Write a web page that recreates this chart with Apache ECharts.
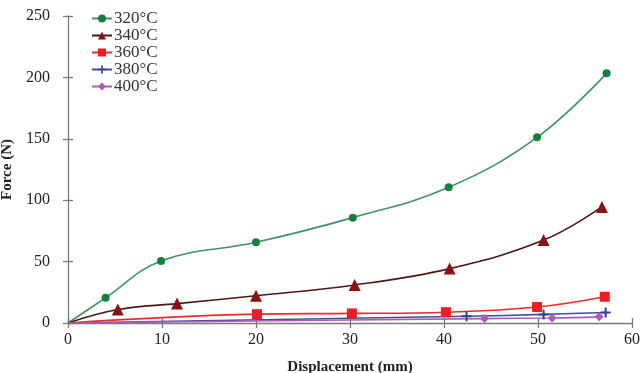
<!DOCTYPE html>
<html>
<head>
<meta charset="utf-8">
<script src="https://cdn.jsdelivr.net/npm/echarts@6/dist/echarts.min.js"></script>
<style>
  html, body { margin: 0; padding: 0; background: #fff; }
  #chart { width: 644px; height: 373px; }
</style>
</head>
<body>
<div id="chart"></div>
<script>
// Force vs displacement at different temperatures: [displacement (mm), force (N)]
const seriesNames = ['320°C', '340°C', '360°C', '380°C', '400°C'];
const force320 = [[0, 0], [4.0, 20.5], [9.9, 50.5], [20.0, 65.7], [30.3, 85.8], [40.5, 110.5], [49.9, 151.2], [57.3, 203.3]];
const force340 = [[0, 0], [5.3, 11], [11.6, 15.8], [20.0, 22.2], [30.5, 31], [40.6, 44.3], [50.6, 67.5], [56.8, 94.5]];
const force360 = [[0, 0], [20.1, 7.2], [30.2, 7.8], [40.2, 8.8], [49.9, 13.0], [57.1, 21.4]];
const force380 = [[0, 0], [42.4, 5.5], [50.6, 7.0], [57.2, 8.6]];
const force400 = [[0, 0], [44.3, 3.6], [51.5, 4.1], [56.5, 5.0]];
const xTicks = { min: 0, max: 60, interval: 10 };
const yTicks = { min: 0, max: 250, interval: 50 };

const serif = '"Liberation Serif", "DejaVu Serif", serif';
const axisGrey = '#7a7a7a';
const textColor = '#222';

// The curves start at the origin without a marker there.
function toPoints(data) {
  return data.map(function (p) {
    return (p[0] === 0 && p[1] === 0) ? { value: p, symbol: 'none' } : { value: p };
  });
}

function makeLine(name, data, lineColor, markColor, symbol, size) {
  return {
    name: name,
    type: 'line',
    data: toPoints(data),
    smooth: 0.4,
    symbol: symbol,
    symbolSize: size,
    showSymbol: true,
    lineStyle: { color: lineColor, width: 1.6 },
    itemStyle: { color: markColor, borderWidth: 0 },
    emphasis: { disabled: true }
  };
}

const chart = echarts.init(document.getElementById('chart'), null, { renderer: 'canvas' });
chart.setOption({
  animation: false,
  backgroundColor: '#fff',
  grid: { left: 68, right: 12, top: 16, bottom: 50, containLabel: false, outerBoundsMode: 'none' },
  legend: {
    orient: 'vertical',
    left: 86,
    top: 5,
    itemGap: 0,
    itemWidth: 20,
    itemHeight: 10,
    data: seriesNames,
    textStyle: { fontFamily: serif, fontSize: 17, color: '#333', padding: [0, 0, 0, -3] }
  },
  xAxis: [
    {
      type: 'value', min: xTicks.min, max: xTicks.max, interval: xTicks.interval,
      name: 'Displacement (mm)', nameLocation: 'middle', nameGap: 37,
      nameTextStyle: { fontFamily: serif, fontSize: 15, fontWeight: 'bold', color: textColor },
      axisLine: { show: true, lineStyle: { color: axisGrey, width: 1.3 } },
      axisTick: { show: true, inside: false, length: 5, lineStyle: { color: axisGrey, width: 1.3 } },
      axisLabel: { fontFamily: serif, fontSize: 16, color: textColor, margin: 9 },
      splitLine: { show: false }
    },
    {
      type: 'value', position: 'bottom', min: xTicks.min, max: xTicks.max, interval: xTicks.interval,
      axisLine: { show: false },
      axisTick: { show: true, inside: true, length: 5, lineStyle: { color: axisGrey, width: 1.3 } },
      axisLabel: { show: false },
      splitLine: { show: false }
    }
  ],
  yAxis: [
    {
      type: 'value', min: yTicks.min, max: yTicks.max, interval: yTicks.interval,
      name: 'Force (N)', nameLocation: 'middle', nameGap: 50,
      nameTextStyle: { fontFamily: serif, fontSize: 15, fontWeight: 'bold', color: textColor },
      axisLine: { show: true, lineStyle: { color: axisGrey, width: 1.3 } },
      axisTick: { show: true, inside: false, length: 5, lineStyle: { color: axisGrey, width: 1.3 } },
      axisLabel: { fontFamily: serif, fontSize: 16, color: textColor, margin: 18 },
      splitLine: { show: false }
    },
    {
      type: 'value', position: 'left', min: yTicks.min, max: yTicks.max, interval: yTicks.interval,
      axisLine: { show: false },
      axisTick: { show: true, inside: true, length: 5, lineStyle: { color: axisGrey, width: 1.3 } },
      axisLabel: { show: false },
      splitLine: { show: false }
    }
  ],
  series: [
    makeLine(seriesNames[0], force320, '#3d9366', '#17803f', 'circle', 8),
    makeLine(seriesNames[1], force340, '#4b1818', '#8a1212', 'triangle', 12),
    makeLine(seriesNames[2], force360, '#ee2a2a', '#ee1c24', 'rect', 10),
    makeLine(seriesNames[3], force380, '#3b4f9e', '#2d3f96', 'path://M4,0H6V10H4ZM0,4H10V6H0Z', 10),
    makeLine(seriesNames[4], force400, '#b05ab4', '#b05ab4', 'diamond', 9)
  ]
});
</script>
</body>
</html>
